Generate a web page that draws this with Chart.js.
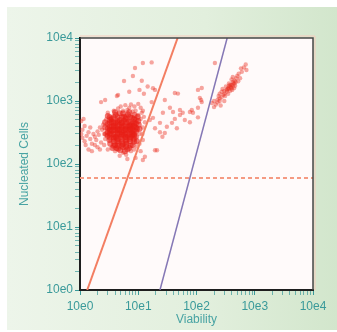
<!DOCTYPE html>
<html>
<head>
<meta charset="utf-8">
<script src="https://cdn.jsdelivr.net/npm/chart.js@4/dist/chart.umd.min.js"></script>
<style>
  html, body { margin: 0; padding: 0; background: #fff; }
  #wrap { width: 337px; height: 332px; }
</style>
</head>
<body>
<div id="wrap"><canvas id="c" width="337" height="332"></canvas></div>
<script>
// decade ticks (log axes) and their labels
const decades = [1, 10, 100, 1000, 10000];
const decadeLabels = ['10e0', '10e1', '10e2', '10e3', '10e4'];
const minorSteps = [2, 3, 4, 5, 6, 7, 8, 9];

// gates: [viability, nucleated cells]
const gateLeft = [[1.33, 1], [47.4, 10000]];
const gateRight = [[23.6, 1], [336, 10000]];
const nucleatedThreshold = 60;

// dense core of the main cluster
const coreEvents = [
  [3.0,580],[3.5,520],[4.1,600],[4.8,640],[5.7,560],[6.7,610],[7.8,540],[9.1,500],
  [3.0,430],[3.5,470],[4.1,450],[4.8,500],[5.7,480],[6.7,470],[7.8,430],[9.1,440],
  [3.0,370],[3.5,390],[4.1,380],[4.8,420],[5.7,400],[6.7,390],[7.8,370],[9.1,380],
  [3.0,320],[3.5,330],[4.1,340],[4.8,350],[5.7,330],[6.7,340],[7.8,320],[9.1,330],
  [3.0,280],[3.5,290],[4.1,270],[4.8,300],[5.7,290],[6.7,280],[7.8,280],[9.1,270],
  [3.2,240],[3.8,250],[4.4,230],[5.2,250],[6.1,240],[7.2,230],[8.4,250],
  [3.3,210],[4.0,200],[4.6,215],[5.4,205],[6.3,210],[7.4,195],
  [3.6,180],[4.5,175],[5.5,185],[6.5,170],
  [3.3,500],[3.8,410],[4.4,360],[5.2,450],[6.1,360],[7.2,410],[8.4,460],[3.3,350],
  [3.8,300],[4.4,310],[5.2,320],[6.1,300],[7.2,300],[8.4,340],[4.4,480],[5.2,380],
  [6.1,520],[7.2,360],[5.0,270],[6.0,270],[4.2,260],[8.0,300],[9.5,360],[10.2,420],
  [3.25,550],[3.8,550],[4.45,550],[5.25,550],[6.2,550],[7.25,550],[8.5,520],
  [3.25,455],[3.8,455],[4.45,455],[5.25,455],[6.2,455],[7.25,455],[8.5,410],
  [3.25,395],[3.8,395],[4.45,395],[5.25,395],[6.2,395],[7.25,395],[8.5,395],
  [3.25,345],[3.8,345],[4.45,345],[5.25,345],[6.2,345],[7.25,345],[8.5,300],
  [3.25,300],[3.8,265],[4.45,290],[5.25,290],[6.2,265],[7.25,265],[8.5,280],
  [3.25,260],[3.8,225],[4.45,250],[5.25,225],[6.2,225],[7.25,250],[8.5,225],
  [3.8,195],[4.45,195],[5.25,195],[6.2,190],[7.0,180],[4.9,165],[5.9,160],
  [2.7,380],[2.7,460],[2.8,300],[10,480],[10.5,360],[9.8,560],[5.5,640],[7.0,660],
  [4.0,660],[8.6,600],[4.2,180],[8.0,200],[9.5,230]
];

// looser edge of the main cluster
const clusterEvents = [
  [10.5,300],[11,520],[10,600],[11.5,650],[9.0,700],[8.0,680],[6.5,720],[5.5,700],[7,780],
  [2.6,300],[2.5,420],[2.4,350],[2.7,250],[2.6,200],[2.8,510],[3.0,650],[3.8,700],
  [4.5,760],[5.0,820],[6.0,860],[7.5,880],[8.6,820],[10,900],[11,780],[12,700],
  [12.5,560],[13,460],[12,380],[11.8,300],[12,240],[10.5,210],[9.5,190],[8.5,170],
  [7.5,160],[5.5,150],[4.8,135],[6.2,140],[4,160],[3,170],[11,160],[13,130],[6.5,120],[9,125]
];

// events near the left axis
const leftEvents = [
  [1.05,480],[1.05,300],[1.1,260],[1.2,230],[1.3,280],[1.4,320],[1.25,200],[1.5,250],
  [1.6,210],[1.7,300],[1.8,270],[1.9,240],[2.0,330],[2.1,290],[2.2,380],[1.4,170],
  [1.6,160],[2.0,185],[2.3,220],[1.1,350],[1.15,520],[1.8,200],[2.2,170],[1.5,380],[1.2,400]
];

// sparse events between the two populations
const sparseEvents = [
  [2.3,960],[4.5,1250],[5.7,2080],[8.1,2490],[8.8,3340],[12,4000],[17,4100],[17.9,1600],
  [2.7,1040],[4.3,1200],[7.0,1400],[10.5,1500],[12.5,1300],[11.5,2100],[14.5,1700],
  [19.4,1500],[17,960],[28.6,1040],[42.5,1340],[48,1310],[123,1610],[114,1120],[26.5,650],
  [35,780],[39.5,670],[52,600],[58,650],[83,720],[77,670],[87,650],[106,780],[42.5,520],
  [63,500],[23.6,450],[31,390],[46,370],[28.6,310],[19.4,370],[15.8,500],[19.4,165],
  [12,116],[38,450],[77,460],[106,550],[52,720],[120,1040],[21,165],[26,270],[23.6,320],[17.9,540]
];

// events: upper population (high viability)
const viableEvents = [
  [184,930],[200,1000],[215,880],[230,1050],[250,1000],[270,1150],[290,1250],[250,1300],
  [300,1450],[330,1400],[350,1600],[380,1700],[400,1800],[420,2000],[450,2100],[480,2300],
  [500,2500],[530,2700],[400,2200],[430,1900],[360,1900],[320,1700],[280,1550],[460,1750],
  [520,2050],[350,1300],[310,1200],[240,1200],[200,800],[260,850],[300,1000],[380,1450],
  [440,1600],[560,2300],[600,2900],[650,3400],[700,3800],[580,3300],[420,2400],[270,1400],
  [230,950],[340,1550],[390,1650],[470,2000],[410,1500],[360,1750],[300,1300],[250,1100],
  [207,4000],[720,3100],[106,1500],[123,960],
  [380,1800],[420,1750],[400,1600],[360,1550],[450,1900],[330,1500]
];

const toPoints = arr => arr.map(p => ({ x: p[0], y: p[1] }));
const outerEvents = [].concat(clusterEvents, leftEvents, sparseEvents, viableEvents);

const logTicks = [];
decades.forEach((d, i) => {
  logTicks.push(d);
  if (i < decades.length - 1) minorSteps.forEach(m => logTicks.push(d * m));
});

const teal = '#3a9a9a';

const panelPlugin = {
  id: 'panel',
  beforeDraw(chart) {
    const { ctx, chartArea: a } = chart;
    ctx.save();
    ctx.fillStyle = '#ffffff';
    ctx.fillRect(0, 0, chart.width, chart.height);
    const g = ctx.createLinearGradient(7, 0, 337, 0);
    g.addColorStop(0, '#edf5ea');
    g.addColorStop(0.6, '#e2efdd');
    g.addColorStop(1, '#d2e6cc');
    ctx.fillStyle = g;
    ctx.fillRect(7, 7, 330, 323);
    ctx.fillStyle = '#fffafa';
    ctx.fillRect(a.left, a.top, a.right - a.left, a.bottom - a.top);
    ctx.restore();
  },
  afterDraw(chart) {
    const { ctx, chartArea: a } = chart;
    ctx.save();
    ctx.strokeStyle = '#f6cbbd';
    ctx.lineWidth = 1;
    ctx.beginPath();
    ctx.moveTo(a.left, a.top - 2);
    ctx.lineTo(a.right + 2, a.top - 2);
    ctx.lineTo(a.right + 2, a.bottom);
    ctx.stroke();
    ctx.strokeStyle = '#454545';
    ctx.lineWidth = 1.5;
    ctx.beginPath();
    ctx.moveTo(a.left, a.top);
    ctx.lineTo(a.right, a.top);
    ctx.lineTo(a.right, a.bottom);
    ctx.stroke();
    ctx.restore();
  }
};

function axis(pos, title, titlePad) {
  return {
    type: 'logarithmic',
    position: pos,
    min: 1,
    max: 10000,
    afterBuildTicks: s => { s.ticks = logTicks.map(v => ({ value: v, major: decades.includes(v) })); },
    afterFit: s => { if (pos === 'left') s.width = 80; else s.height = 42; },
    ticks: {
      autoSkip: false,
      maxRotation: 0,
      color: teal,
      padding: pos === 'left' ? 2 : 4,
      font: { family: '"Liberation Sans", Arial, sans-serif', size: 12 },
      callback: v => { const i = decades.indexOf(v); return i >= 0 ? decadeLabels[i] : ''; }
    },
    grid: {
      drawOnChartArea: false,
      drawTicks: true,
      tickLength: 5,
      color: ctx => (ctx.tick && decades.includes(ctx.tick.value)) ? teal : 'rgba(58,154,154,0.7)'
    },
    border: { display: true, color: '#1e1e1e', width: 2 },
    title: {
      display: true,
      text: title,
      color: '#48a3a3',
      padding: titlePad,
      font: { family: '"Liberation Sans", Arial, sans-serif', size: 12 }
    }
  };
}

new Chart(document.getElementById('c'), {
  type: 'scatter',
  data: {
    datasets: [
      {
        data: toPoints(gateLeft), showLine: true, pointRadius: 0,
        borderColor: '#f37e62', borderWidth: 2, order: 0
      },
      {
        data: toPoints(gateRight), showLine: true, pointRadius: 0,
        borderColor: '#8577b5', borderWidth: 1.5, order: 0
      },
      {
        data: [{ x: 1, y: nucleatedThreshold }, { x: 10000, y: nucleatedThreshold }],
        showLine: true, pointRadius: 0, borderColor: '#f59a82', borderWidth: 2,
        borderDash: [4, 3], order: 0
      },
      {
        data: toPoints(coreEvents), pointRadius: 3, borderWidth: 0,
        backgroundColor: 'rgba(232,30,22,0.6)', order: 1
      },
      {
        data: toPoints(outerEvents), pointRadius: 2.2, borderWidth: 0,
        backgroundColor: 'rgba(234,45,32,0.42)', order: 2
      }
    ]
  },
  options: {
    responsive: false,
    animation: false,
    events: [],
    layout: { padding: { left: 0, top: 38, right: 24, bottom: 0 } },
    plugins: { legend: { display: false }, tooltip: { enabled: false } },
    scales: {
      x: axis('bottom', 'Viability', { top: 0, bottom: 5 }),
      y: axis('left', 'Nucleated Cells', { top: 17, bottom: 0 })
    }
  },
  plugins: [panelPlugin]
});
</script>
</body>
</html>
